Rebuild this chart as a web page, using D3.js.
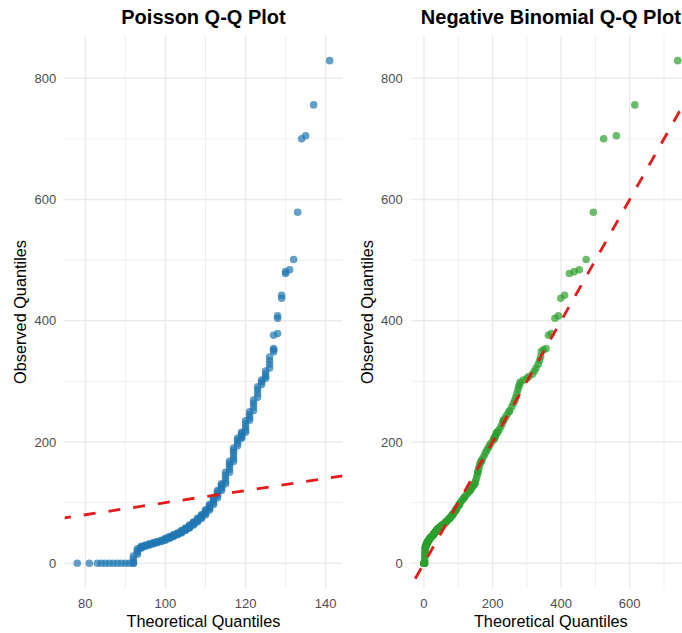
<!DOCTYPE html>
<html>
<head>
<meta charset="utf-8">
<script src="https://cdn.jsdelivr.net/npm/d3@7"></script>
<style>
  body { margin: 0; background: #fff; }
  svg { display: block; font-family: "Liberation Sans", Arial, sans-serif; }
</style>
</head>
<body>
<div id="chart"></div>
<script>
// sorted sample (observed quantiles), shared by both panels
const observed = [
  0, 0, 0, 0, 0, 0, 0, 0, 0, 0, 0, 0, 0, 3, 7, 12,
  15, 18, 21, 24, 25, 26, 27, 28, 28, 29, 30, 30, 31, 32, 32, 33,
  34, 34, 35, 36, 36, 37, 38, 38, 39, 40, 41, 41, 42, 43, 44, 44,
  45, 46, 47, 47, 48, 49, 50, 50, 51, 52, 53, 54, 54, 55, 56, 57,
  58, 58, 59, 60, 62, 63, 63, 64, 66, 67, 68, 68, 70, 71, 73, 74,
  74, 76, 77, 79, 80, 80, 82, 84, 86, 88, 88, 90, 92, 95, 97, 97,
  100, 103, 106, 108, 108, 112, 115, 118, 120, 120, 123, 126, 129, 131, 131, 135,
  140, 145, 150, 150, 155, 160, 164, 168, 168, 172, 177, 182, 186, 190, 194, 198,
  203, 206, 206, 208, 211, 214, 216, 216, 220, 225, 230, 235, 236, 240, 245, 250,
  252, 258, 264, 269, 274, 280, 286, 291, 295, 299, 302, 305, 308, 312, 317, 322,
  328, 334, 340, 349, 352, 354, 376, 379, 404, 408, 437, 442, 478, 481, 484, 501,
  579, 700, 705, 756, 829
];

// theoretical quantiles, poisson fit
const poissonTheoretical = [
  78, 81, 83, 84, 85, 86, 87, 88, 89, 90, 91, 92, 92, 92, 92, 92,
  93, 93, 93, 93, 94, 94, 94, 94, 95, 95, 95, 96, 96, 96, 97, 97,
  97, 98, 98, 98, 99, 99, 99, 100, 100, 100, 100, 101, 101, 101, 101, 102,
  102, 102, 102, 103, 103, 103, 103, 104, 104, 104, 104, 104, 105, 105, 105, 105,
  105, 106, 106, 106, 106, 106, 107, 107, 107, 107, 107, 108, 108, 108, 108, 108,
  109, 109, 109, 109, 109, 110, 110, 110, 110, 110, 111, 111, 111, 111, 111, 112,
  112, 112, 112, 112, 113, 113, 113, 113, 113, 114, 114, 114, 114, 114, 115, 115,
  115, 115, 115, 116, 116, 116, 116, 116, 117, 117, 117, 117, 117, 117, 118, 118,
  118, 118, 119, 119, 119, 119, 119, 120, 120, 120, 120, 120, 121, 121, 121, 121,
  122, 122, 122, 122, 123, 123, 123, 123, 124, 124, 124, 125, 125, 125, 125, 126,
  126, 126, 126, 127, 127, 127, 127, 128, 128, 128, 129, 129, 130, 130, 131, 132,
  133, 134, 135, 137, 141
];

// theoretical quantiles, negative binomial fit
const negBinTheoretical = [
  0, 0, 0, 0, 0, 0, 0, 1, 1, 1, 1, 1, 2, 2, 2, 2,
  3, 3, 3, 4, 4, 4, 4, 5, 5, 6, 6, 7, 7, 8, 8, 9,
  9, 10, 10, 11, 12, 13, 14, 14, 15, 16, 17, 17, 19, 20, 22, 23,
  24, 26, 27, 27, 28, 29, 31, 31, 32, 34, 35, 36, 36, 37, 39, 41,
  43, 43, 45, 47, 51, 53, 54, 56, 60, 62, 64, 64, 67, 69, 72, 74,
  75, 78, 79, 82, 83, 84, 86, 88, 91, 93, 93, 95, 97, 101, 103, 103,
  106, 110, 114, 117, 117, 122, 127, 131, 134, 134, 138, 142, 145, 148, 148, 150,
  153, 155, 157, 157, 159, 161, 163, 167, 167, 170, 175, 179, 183, 187, 191, 195,
  202, 204, 205, 207, 209, 211, 213, 214, 219, 224, 228, 231, 232, 237, 242, 248,
  250, 256, 261, 265, 268, 271, 274, 276, 279, 281, 290, 300, 306, 317, 322, 327,
  333, 337, 340, 342, 348, 356, 363, 371, 382, 392, 399, 410, 424, 438, 453, 473,
  494, 524, 561, 615, 740
];

const yTicks = [0, 200, 400, 600, 800];
const poissonTicks = [80, 100, 120, 140];
const negBinTicks = [0, 200, 400, 600];

const width = 682;
const height = 633;

const svg = d3.select("#chart")
  .append("svg")
  .attr("width", width)
  .attr("height", height);

// ggplot style 5% padding of the data range
function expand(ext) {
  const pad = (ext[1] - ext[0]) * 0.05;
  return [ext[0] - pad, ext[1] + pad];
}

// minor breaks halfway between the major ones
function minorTicks(ticks, domain) {
  const step = ticks[1] - ticks[0];
  return d3.range(ticks[0] - step / 2, ticks[ticks.length - 1] + step, step)
    .filter(v => v > domain[0] && v < domain[1]);
}

const panelTop = 35.5, panelBottom = 588.4;
const y = d3.scaleLinear().domain(expand(d3.extent(observed))).range([panelBottom, panelTop]);

function drawPanel(cfg) {
  const x = d3.scaleLinear().domain(expand(d3.extent(cfg.theo))).range([cfg.left, cfg.right]);
  const g = svg.append("g");
  const mid = (cfg.left + cfg.right) / 2;

  svg.append("clipPath").attr("id", cfg.id)
    .append("rect")
    .attr("x", cfg.left).attr("y", panelTop)
    .attr("width", cfg.right - cfg.left).attr("height", panelBottom - panelTop);

  // grid
  g.selectAll(".ymin").data(minorTicks(yTicks, y.domain())).enter().append("line")
    .attr("x1", cfg.left).attr("x2", cfg.right)
    .attr("y1", d => y(d)).attr("y2", d => y(d))
    .attr("stroke", "#ebebeb").attr("stroke-width", 0.8);
  g.selectAll(".xmin").data(minorTicks(cfg.ticks, x.domain())).enter().append("line")
    .attr("y1", panelTop).attr("y2", panelBottom)
    .attr("x1", d => x(d)).attr("x2", d => x(d))
    .attr("stroke", "#ebebeb").attr("stroke-width", 0.8);
  g.selectAll(".ymaj").data(yTicks).enter().append("line")
    .attr("x1", cfg.left).attr("x2", cfg.right)
    .attr("y1", d => y(d)).attr("y2", d => y(d))
    .attr("stroke", "#ebebeb").attr("stroke-width", 1.5);
  g.selectAll(".xmaj").data(cfg.ticks).enter().append("line")
    .attr("y1", panelTop).attr("y2", panelBottom)
    .attr("x1", d => x(d)).attr("x2", d => x(d))
    .attr("stroke", "#ebebeb").attr("stroke-width", 1.5);

  // tick labels
  g.selectAll(".ylab").data(yTicks).enter().append("text")
    .attr("x", cfg.left - 8.5).attr("y", d => y(d)).attr("dy", "0.35em")
    .attr("text-anchor", "end").attr("fill", "#4d4d4d").style("font-size", "13px")
    .text(d => d);
  g.selectAll(".xlab").data(cfg.ticks).enter().append("text")
    .attr("x", d => x(d)).attr("y", 608)
    .attr("text-anchor", "middle").attr("fill", "#4d4d4d").style("font-size", "13px")
    .text(d => d);

  // points
  g.append("g").attr("clip-path", `url(#${cfg.id})`)
    .selectAll("circle").data(observed).enter().append("circle")
    .attr("cx", (d, i) => x(cfg.theo[i]))
    .attr("cy", d => y(d))
    .attr("r", 3.8)
    .attr("fill", cfg.color)
    .attr("fill-opacity", 0.7);

  // y = x reference line, drawn past both panel edges like geom_abline, then clipped
  const xd = x.domain();
  const span = xd[1] - xd[0];
  g.append("path")
    .datum([xd[0] - span, xd[1] + span])
    .attr("clip-path", `url(#${cfg.id})`)
    .attr("d", d3.line().x(d => x(d)).y(d => y(d)))
    .attr("fill", "none")
    .attr("stroke", "#e41a1c")
    .attr("stroke-width", 2.8)
    .attr("stroke-dasharray", "12,13");

  // titles
  g.append("text")
    .attr("x", mid).attr("y", 24)
    .attr("text-anchor", "middle")
    .style("font-size", "20px").style("font-weight", "bold")
    .text(cfg.title);
  g.append("text")
    .attr("x", mid).attr("y", 627)
    .attr("text-anchor", "middle")
    .style("font-size", "16.3px")
    .text("Theoretical Quantiles");
  g.append("text")
    .attr("transform", `translate(${cfg.left - 38.5},${(panelTop + panelBottom) / 2}) rotate(-90)`)
    .attr("text-anchor", "middle")
    .style("font-size", "16.3px")
    .text("Observed Quantiles");
}

drawPanel({
  id: "clip-poisson", title: "Poisson Q-Q Plot",
  theo: poissonTheoretical, ticks: poissonTicks,
  left: 64.7, right: 342.3, color: "#1f77b4"
});

drawPanel({
  id: "clip-negbin", title: "Negative Binomial Q-Q Plot",
  theo: negBinTheoretical, ticks: negBinTicks,
  left: 411.3, right: 690.4, color: "#2ca02c"
});
</script>
</body>
</html>
